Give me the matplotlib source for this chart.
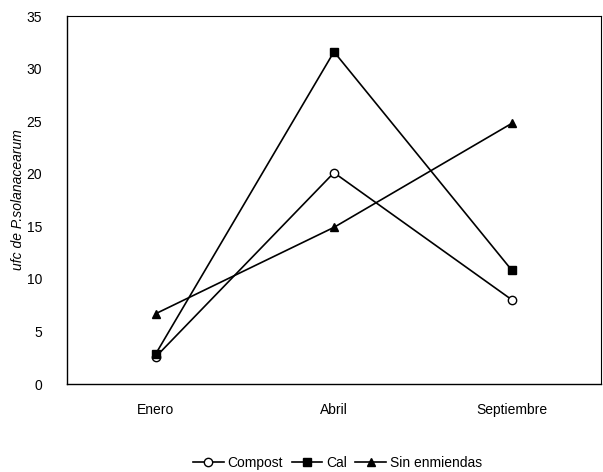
import matplotlib
matplotlib.use("Agg")
import matplotlib.pyplot as plt

plt.rcParams['font.family'] = ['Liberation Sans Narrow', 'Liberation Sans', 'DejaVu Sans']

meses = ["Enero", "Abril", "Septiembre"]
compost = [2.6, 20.1, 8.0]
cal = [2.9, 31.6, 10.8]
sin_enmiendas = [6.7, 14.9, 24.8]

fig = plt.figure(figsize=(6.03, 4.72), dpi=100)
ax = fig.add_axes([0.111, 0.1864, 0.8857, 0.7797])

x = [1, 2, 3]
ax.plot(x, compost, color="black", lw=1.2, marker="o", ms=6,
        markerfacecolor="white", markeredgecolor="black", label="Compost")
ax.plot(x, cal, color="black", lw=1.2, marker="s", ms=6, label="Cal")
ax.plot(x, sin_enmiendas, color="black", lw=1.2, marker="^", ms=6,
        label="Sin enmiendas")

ax.set_xlim(0.5, 3.5)
ax.set_ylim(0, 35)
ax.set_yticks(range(0, 36, 5))
ax.set_xticks(x)
ax.set_xticklabels(meses)
ax.tick_params(length=0, labelsize=10, colors="black")
ax.tick_params(axis="y", pad=18)
ax.tick_params(axis="x", pad=14)

for s in ["top", "right"]:
    ax.spines[s].set_linestyle((0, (2, 1)))
    ax.spines[s].set_linewidth(0.8)
for s in ["left", "bottom"]:
    ax.spines[s].set_linewidth(1.0)

ax.set_ylabel("ufc de P.solanacearum", fontstyle="italic", fontsize=10, labelpad=1)

fig.legend(loc="center", bbox_to_anchor=(0.56, 0.02), ncol=3, frameon=False,
           fontsize=10, handlelength=2.2, columnspacing=0.6, handletextpad=0.3)

fig.savefig("out.png", dpi=100)
